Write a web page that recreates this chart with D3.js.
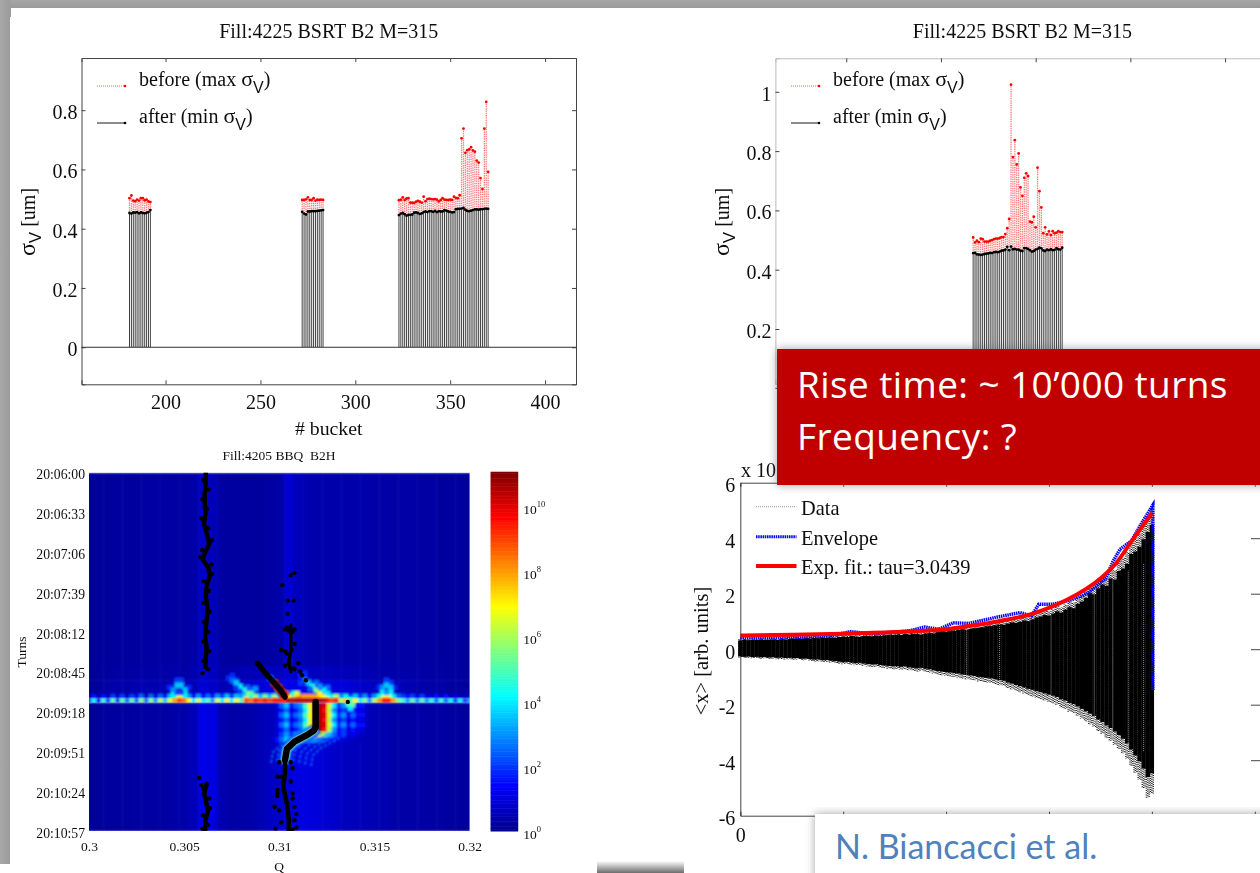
<!DOCTYPE html>
<html>
<head>
<meta charset="utf-8">
<script src="https://cdn.jsdelivr.net/npm/d3@7"></script>
<style>
  html, body { margin: 0; padding: 0; background: #fff; overflow: hidden; }
  svg { display: block; }
  text { font-family: "Liberation Serif", serif; fill: #111; }
  .frame .domain, .frame .tick line { stroke: #444; stroke-width: 1; }
  .frame .tick text { fill: #111; }
  .pale .domain { stroke: #bbb; }
</style>
</head>
<body>
<svg id="slide" width="1260" height="873"></svg>
<script>
// ---- BSRT panels: sigma_V per bucket ----
const bucketTicks = [200, 250, 300, 350, 400];
const sigmaTicks = [0, 0.2, 0.4, 0.6, 0.8];
const leftBuckets = [...d3.range(181, 193), ...d3.range(272, 284), ...d3.range(323, 371)];
const leftBefore = [
  .503, .512, .495, .493, .498, .495, .503, .503, .496, .498, .492, .49,
  .497, .497, .499, .506, .497, .497, .503, .495, .498, .497, .498, .497,
  .496, .498, .506, .497, .502, .503, .488, .488, .487, .491, .494, .491, .488, .508, .493, .5,
  .501, .5, .499, .5, .498, .492, .497, .503, .498, .497, .497, .498, .497, .508, .504, .503, .513,
  .705, .738, .656, .665, .668, .675, .664, .66, .63, .623, .571, .534, .738, .828, .592
];
const leftAfter = [
  .453, .451, .455, .454, .456, .452, .455, .453, .452, .454, .456, .463,
  .457, .451, .448, .458, .458, .459, .459, .459, .46, .461, .462, .463,
  .446, .451, .453, .449, .444, .447, .447, .448, .454, .455, .453, .45, .452, .456, .458, .456,
  .459, .459, .457, .46, .456, .459, .458, .458, .463, .461, .458, .457, .455, .456, .466, .467,
  .467, .468, .47, .464, .46, .459, .461, .463, .465, .465, .464, .466, .466, .467, .468, .467
];

const rightBucketTicks = [250, 300, 350, 400, 450];
const rightSigmaTicks = [0.2, 0.4, 0.6, 0.8, 1];
const rightBuckets = d3.range(317, 365);
const rightBefore = [
  .509, .492, .498, .493, .505, .503, .495, .495, .495, .498, .5, .503, .505, .505, .507, .51, .51, .52,
  .54, .571, 1.024, .78, .837, .755, .792, .678, .649, .71, .725, .716, .562, .56, .579, .543, .744, .665,
  .61, .523, .543, .519, .529, .517, .53, .523, .525, .53, .527, .527
];
const rightAfter = [
  .456, .457, .452, .451, .45, .451, .453, .454, .455, .457, .456, .459, .46, .459, .461, .464, .465, .468,
  .477, .466, .478, .469, .47, .468, .468, .464, .463, .473, .473, .47, .466, .461, .463, .468, .47, .474,
  .472, .465, .463, .468, .466, .469, .466, .467, .473, .469, .468, .474
];

// ---- BBQ spectrogram ----
const qTicks = [0.3, 0.305, 0.31, 0.315, 0.32];
const qTickLabels = ["0.3", "0.305", "0.31", "0.315", "0.32"];
const timeTicks = [0, 33, 66, 99, 132, 165, 198, 231, 264, 297];
const timeLabels = ["20:06:00", "20:06:33", "20:07:06", "20:07:39", "20:08:12", "20:08:45", "20:09:18", "20:09:51", "20:10:24", "20:10:57"];
const colourExponents = [0, 2, 4, 6, 8, 10];
// log10 amplitude per Q column (0.0005 wide), above and below the instability
const bgAbove = [.15, .15, .15, .2, .2, .2, .25, .25, .25, .25, .25, .3, .7, .5, .25, .2, .2, .2, .2, .25, .3, .8, .5, .4, .35, .35, .35, .35, .35, .35, .3, .3, .3, .3, .3, .25, .25, .2, .2, .2, .15];
const glowFar = [.15, .15, .2, .25, .25, .3, .3, .3, .3, .35, .3, .4, .75, .6, .35, .35, .45, .5, .55, .6, .6, .85, .7, .65, .6, .6, .55, .5, .45, .45, .4, .35, .35, .35, .3, .3, .25, .25, .2, .2, .15];
const glowNear = [.2, .2, .3, .35, .35, .4, .45, .4, .45, .5, .45, .5, .85, .7, .5, .55, .7, .8, .9, 1, 1, 1.1, 1.1, 1.1, 1.1, 1, .95, .9, .8, .7, .6, .55, .5, .5, .4, .35, .3, .3, .2, .2, .2];
const bgBelow = [.15, .15, .2, .2, .2, .25, .25, .25, .25, .3, .35, .5, 1.1, 1, .4, .3, .3, .35, .45, .6, .75, .9, 1, 1, .9, .8, .7, .6, .55, .5, .45, .4, .35, .3, .3, .3, .25, .25, .2, .2, .2];
// horizontal streak, 0.00025 wide columns
const streakRow = [
  2, 4, 1.5, 4.5, 2, 5, 2, 5, 2.5, 5, 2.5, 5.5, 2.5, 5.5, 3, 6, 3.5,
  6.5, 8, 9, 8.5, 7, 4, 6.5, 4, 5, 3, 6.5, 4, 7, 4, 7, 5,
  9, 8.5, 9.5, 9, 9.5, 9, 9.5, 9.5, 9.5, 10.5, 10.5, 10.6, 10.5, 10.5, 10.5, 10.6, 10.5,
  10, 9, 9.5, 6, 7.5, 5, 7, 4, 5.5, 3, 6, 8, 9.5, 9.5, 8, 5.5,
  4.5, 3, 5, 3, 5, 3, 4.5, 2.5, 4.5, 2.5, 4, 2, 4, 2, 3
];
const streakUpper = [
  .4, 1.5, .4, 1.5, .5, 2, .6, 2, .6, 2, 1, 2.5, .6, 2.5, 1, 2.5, 1.5,
  3.5, 5, 7, 5, 3, 1.5, 3, 1.5, 2.5, 1.5, 3, 2, 3.5, 2, 3.5, 3,
  6.5, 4, 6, 3.5, 5.5, 3.5, 6, 4, 6, 7, 8, 9, 8, 8, 8, 8, 7,
  7, 4.5, 6, 3, 4, 2, 3.5, 2, 3, 1.5, 3, 4.5, 7, 7, 4, 2.5,
  2, 1.5, 2, 1, 2, 1, .8, 1.5, .6, 1.5, .5, 1, .4, .5, .4
];
// dashed vertical stripes under the streak, rows 4 s tall, starting at Q = 0.3095
const fringeRows = [
  [.5, 1, 2.5, 3.5, 1.5, 2.5, 3, 5, 7, 10.5, 10.5, 10, 6.5, 4, 2, 3, 1.5, 2.5, 1.5, 1.5, .6],
  [.5, .8, 1.5, 2.5, 1, 1.5, 2.5, 4, 6.5, 10.5, 10.5, 9.5, 6, 3, 1.5, 2, 1, 1.5, 1, 1, .5],
  [.5, 1, 2.5, 3.5, 1.5, 2.5, 3, 5, 7, 10.5, 10.5, 10, 6.5, 4, 2, 3, 1.5, 2.5, 1.5, 1.5, .6],
  [.5, .8, 1.5, 2.5, 1, 1.5, 2.5, 4, 6.5, 10.5, 10.5, 9.5, 6, 3, 1.5, 2, 1, 1.5, 1, 1, .5],
  [.5, 1, 2.5, 3.5, 1.5, 2.5, 3, 5, 7, 10.5, 10.5, 10, 6.5, 4, 2, 3, 1.5, 2.5, 1.5, 1.5, .6],
  [.5, .8, 1.5, 2.5, 1, 1.5, 2.5, 4, 6.5, 10.5, 10.5, 9.5, 6, 3, 1.5, 2, 1, 1.5, 1, 1, .5],
  [.5, 1, 2, 3, 2, 3, 3.5, 5, 7, 8, 7, 5.5, 3.5, 2.5, 1.5, 2, 1, 1.2, .8, .6, .5],
  [.6, 1.5, 2.5, 3.5, 3, 3.5, 3.5, 3, 3, 3, 2.5, 2, 1.5, 1.5, 1, 1, .8, .6, .5, .5, .5]
];
// [Q, seconds, log10 amplitude] of the side bands rising above the streak
const spurCells = [
  [.3041, 176, 1.8], [.3051, 176, 1.8], [.3045, 170, 2], [.3047, 170, 2],
  [.3043, 178, 3], [.3045, 174, 3.5], [.3047, 174, 3.5], [.3049, 178, 3.5], [.3043, 182, 4], [.3049, 182, 4], [.3045, 180, 2], [.3047, 180, 2],
  [.3072, 168, 1.8], [.3074, 166, 1.8], [.3076, 170, 2], [.3082, 176, 2.5], [.3084, 178, 2.5],
  [.3074, 170, 2.5], [.3076, 172, 3.5], [.3078, 175, 4], [.308, 178, 4.5], [.3082, 181, 6], [.308, 181, 3.5], [.3084, 181, 5], [.3078, 179, 2], [.3076, 176, 2], [.3086, 177, 3],
  [.311, 166, 1.8], [.3112, 164, 1.8], [.3118, 172, 2.5], [.3124, 176, 2.5],
  [.3112, 169, 2.5], [.3114, 172, 3.5], [.3116, 175, 4.5], [.3118, 178, 5.5], [.312, 181, 7], [.3122, 178, 4], [.3115, 177, 2.5], [.312, 175, 3], [.311, 172, 2], [.3124, 181, 4],
  [.3151, 176, 1.8], [.3159, 176, 1.8], [.3155, 170, 2], [.3157, 172, 2],
  [.3153, 176, 3], [.3155, 174, 3.5], [.3157, 176, 3.5], [.3153, 180, 4], [.3157, 180, 4], [.3155, 180, 3],
  [.3094, 168, 2.5], [.3096, 172, 3.5], [.3098, 176, 5], [.31, 180, 6], [.3102, 181, 8], [.3098, 180, 3.5], [.3106, 181, 4.5], [.3108, 181, 6.5],
  [.3135, 190, 5], [.3137, 190, 5.5], [.3136, 186, 4.5], [.3136, 193, 4]
];
// tune traces, [Q, seconds]
const tuneTop = [[.30614, 0], [.30612, 9], [.30608, 17], [.30608, 25], [.30612, 34], [.30604, 42], [.30618, 50], [.30632, 59], [.30608, 67], [.30598, 72], [.30628, 79], [.30634, 86], [.30618, 94], [.30614, 103], [.30622, 111], [.3062, 119], [.30614, 128], [.3061, 136], [.30618, 144], [.30614, 153], [.30612, 161]];
const tuneBottom = [[.30618, 258], [.30606, 266], [.30616, 274], [.30626, 280], [.30612, 288], [.3061, 297]];
const tuneColumn = [[.3106, 126], [.3106, 132], [.3106, 139], [.3106, 148], [.3105, 157], [.3106, 165]];
const tuneSlant = [[.30886, 158], [.30926, 166], [.30966, 173], [.31006, 180], [.3103, 186]];
const tuneBend = [[.31191, 190], [.31191, 211], [.3118, 214], [.3114, 218], [.3108, 223], [.3104, 229], [.3103, 238]];
const tuneLower = [[.3103, 238], [.3103, 249], [.3102, 260], [.3104, 274], [.3105, 288], [.3105, 297]];
const tuneDots = [
  [.3108, 83], [.3106, 85], [.31016, 93], [.31044, 106], [.31076, 106], [.31044, 117], [.3105, 131], [.3103, 130], [.3107, 132],
  [.3103, 148], [.3101, 147], [.31064, 147], [.31076, 162], [.3105, 158], [.311, 158], [.3112, 168], [.3114, 172],
  [.3098, 295], [.30975, 277], [.3108, 277], [.3107, 296], [.3107, 266], [.3099, 263], [.3058, 253], [.3059, 259],
  [.3136, 190], [.3101, 252], [.3106, 240], [.3099, 268], [.3108, 288],
  [.306, 6], [.30628, 14], [.30596, 22], [.3062, 30], [.30592, 38], [.30626, 46], [.30646, 56], [.30594, 64], [.30586, 70], [.30644, 76],
  [.30648, 84], [.30604, 90], [.3063, 98], [.306, 108], [.30634, 115], [.30604, 124], [.30626, 132], [.30598, 140], [.30632, 148], [.306, 156], [.30626, 163], [.30596, 166],
  [.30602, 262], [.30632, 270], [.30636, 278], [.30598, 284], [.30626, 292], [.30596, 295],
  [.31, 240], [.3107, 245], [.3099, 252], [.3106, 256], [.3099, 266], [.3107, 270], [.31, 280], [.3109, 283], [.3101, 290], [.3109, 294],
  [.3104, 128], [.3108, 130], [.3108, 142], [.3104, 150], [.3103, 160], [.3108, 163], [.3111, 165]
];

// ---- Oscillation panel ----
const amplitudeTicks = [-6, -4, -2, 0, 2, 4, 6];
const turnTicks = [0, 1, 2, 3, 4, 5];
const dataHigh = [
  .36, .38, .37, .39, .38, .4, .38, .39, .4, .38, .41, .4, .42,
  .42, .44, .43, .45, .44, .46, .45, .47, .46, .48, .47, .5,
  .52, .5, .54, .52, .5, .54, .55, .53, .56, .55, .57, .58,
  .58, .6, .58, .62, .6, .63, .62, .6, .64, .66, .65, .7,
  .74, .72, .78, .76, .8, .82, .8, .84, .86, .88, .9, .94,
  .96, .98, 1.02, 1, 1.05, 1.1, 1.08, 1.12, 1.18, 1.15, 1.22, 1.3,
  1.34, 1.4, 1.38, 1.46, 1.55, 1.5, 1.62, 1.72, 1.68, 1.85, 1.95, 2.1,
  2.3, 2.25, 2.5, 2.65, 2.6, 2.9, 2.85, 3.2, 3.3, 3.5, 3.9, 4,
  4.2, 4.5, 4.8, 5.1
];
const dataLow = [
  -.3, -.32, -.31, -.33, -.32, -.34, -.33, -.35, -.34, -.36, -.35, -.37, -.36,
  -.38, -.37, -.4, -.39, -.42, -.44, -.43, -.46, -.45, -.48, -.5, -.52,
  -.54, -.53, -.56, -.58, -.57, -.6, -.62, -.64, -.63, -.66, -.68, -.7,
  -.72, -.71, -.74, -.72, -.76, -.78, -.8, -.78, -.82, -.84, -.88, -.92,
  -.94, -.96, -.98, -1, -1.02, -1.06, -1.08, -1.1, -1.12, -1.16, -1.18, -1.2,
  -1.22, -1.26, -1.3, -1.32, -1.4, -1.44, -1.5, -1.55, -1.6, -1.66, -1.7, -1.76,
  -1.8, -1.85, -1.9, -1.95, -2, -2.1, -2.15, -2.25, -2.3, -2.4, -2.5, -2.6,
  -2.7, -2.8, -2.95, -3.05, -3.2, -3.3, -3.45, -3.6, -3.75, -3.95, -4.2, -4.45,
  -4.7, -5, -5.35, -5.2
];
const dataStripes = [2.2, 2.52, 3.02, 3.44, 3.62, 3.77, 3.92];
const envelopeTurns = [0, .49, .85, 1.07, 1.28, 1.64, 1.79, 1.93, 2.07, 2.22, 2.5, 2.72, 2.83, 2.9, 3.04, 3.22, 3.37, 3.55, 3.62, 3.69, 3.8, 3.91, 4.01, 4.01];
const envelopeValues = [.4, .43, .47, .63, .56, .66, .8, .72, .95, .93, 1.16, 1.32, 1.2, 1.62, 1.62, 1.78, 2, 2.55, 3.15, 3.6, 3.9, 4.6, 5.2, -1.5];
const fitTurns = [0, .5, 1, 1.5, 2, 2.25, 2.5, 2.85, 3.17, 3.5, 3.65, 3.81, 4];
const fitValues = [.49, .52, .56, .62, .72, .85, 1, 1.29, 1.77, 2.55, 3.09, 3.93, 4.9];

const svg = d3.select("#slide");
const defs = svg.append("defs");

function addBlur(id, std) {
  defs.append("filter").attr("id", id)
    .attr("x", "-10%").attr("y", "-10%").attr("width", "120%").attr("height", "120%")
    .append("feGaussianBlur").attr("stdDeviation", std);
}
addBlur("soft", 0.4);
addBlur("heatBlur", 1);
addBlur("streakBlur", 0.8);
addBlur("dotBlur", 0.5);
addBlur("shadow", 5);

function addFade(id, x2, y2, from, to) {
  const g = defs.append("linearGradient").attr("id", id)
    .attr("x1", 0).attr("y1", 0).attr("x2", x2).attr("y2", y2);
  g.append("stop").attr("offset", "0%").attr("stop-color", from);
  g.append("stop").attr("offset", "100%").attr("stop-color", to);
}
addFade("stripTop", 0, 1, "#a6a6a6", "#9a9a9a");
addFade("stripLeft", 1, 0, "#a8a8a8", "#9c9c9c");
addFade("stripBottom", 0, 1, "#ffffff", "#6c6c6c");

// slide edges left over in the screenshot
svg.append("rect").attr("width", 1260).attr("height", 8).attr("fill", "url(#stripTop)");
svg.append("rect").attr("width", 10).attr("height", 864).attr("fill", "url(#stripLeft)");
svg.append("rect").attr("x", 10).attr("y", 8).attr("width", 1).attr("height", 9).attr("fill", "#9c9c9c");
svg.append("rect").attr("x", 597).attr("y", 861).attr("width", 87).attr("height", 12).attr("fill", "url(#stripBottom)");

function sigmaLabel(g, x, y) {
  const t = g.append("text").attr("transform", `translate(${x},${y}) rotate(-90)`)
    .attr("text-anchor", "middle").attr("font-size", 20);
  t.append("tspan").attr("font-size", 24).text("σ");
  t.append("tspan").attr("font-size", 17).attr("dy", 6).attr("font-family", "Liberation Sans").text("V");
  t.append("tspan").attr("dy", -6).text(" [um]");
}

function legendEntry(g, x, y, colour, dashed, label) {
  g.append("line").attr("x1", x).attr("x2", x + 28).attr("y1", y).attr("y2", y)
    .attr("stroke", colour).attr("stroke-width", 0.9)
    .attr("stroke-dasharray", dashed ? "1 1" : null).attr("opacity", dashed ? 0.7 : 1);
  g.append("circle").attr("cx", x + 28).attr("cy", y).attr("r", 1.3).attr("fill", colour);
  const t = g.append("text").attr("x", x + 42).attr("y", y).attr("font-size", 20);
  t.append("tspan").text(`${label} (${dashed ? "max" : "min"} `);
  t.append("tspan").attr("font-size", 22).text("σ");
  t.append("tspan").attr("font-family", "Liberation Sans").attr("font-size", 16).attr("dy", 7).text("V");
  t.append("tspan").attr("dy", -7).text(")");
}

function bsrtPanel(opts) {
  const g = svg.append("g").attr("class", `frame ${opts.pale ? "pale" : ""}`).attr("filter", "url(#soft)");
  const x = d3.scaleLinear().domain(opts.xDomain).range(opts.xRange);
  const y = d3.scaleLinear().domain(opts.yDomain).range(opts.yRange);
  const [left, right] = opts.xRange;
  const [bottom, top] = opts.yRange;

  const stems = (low, high) => (d, i) => d3.line()([[x(d), y(low(i))], [x(d), y(high(i))]]);
  g.append("g").selectAll("path").data(opts.buckets).join("path")
    .attr("d", stems(() => 0, (i) => opts.after[i]))
    .attr("stroke", "#000").attr("stroke-width", 0.75).attr("fill", "none");
  g.append("g").selectAll("path").data(opts.buckets).join("path")
    .attr("d", stems((i) => opts.after[i], (i) => opts.before[i]))
    .attr("stroke", "#f00").attr("stroke-width", 1.3).attr("stroke-dasharray", "1.5 0.8")
    .attr("opacity", 0.5).attr("fill", "none");
  g.append("g").selectAll("circle").data(opts.buckets).join("circle")
    .attr("cx", (d) => x(d)).attr("cy", (d, i) => y(opts.before[i]))
    .attr("r", 1.4).attr("fill", "#f00");
  g.append("g").selectAll("circle").data(opts.buckets).join("circle")
    .attr("cx", (d) => x(d)).attr("cy", (d, i) => y(opts.after[i]))
    .attr("r", 1.4).attr("fill", "#000");

  const xLabels = opts.hideXLabels ? "" : d3.format("d");
  g.append("g").attr("transform", `translate(0,${bottom})`)
    .call(d3.axisBottom(x).tickValues(opts.xTicks).tickSize(-4).tickPadding(11).tickFormat(xLabels))
    .attr("font-size", 20).attr("font-family", "Liberation Serif");
  g.append("g").attr("transform", `translate(0,${top})`)
    .call(d3.axisTop(x).tickValues(opts.xTicks).tickSize(-4).tickFormat(""));
  const yAxis = g.append("g").attr("transform", `translate(${left},0)`)
    .call(d3.axisLeft(y).tickValues(opts.yTicks).tickSize(-4).tickPadding(4).tickFormat((d) => `${d}`))
    .attr("font-size", 20).attr("font-family", "Liberation Serif");
  yAxis.selectAll("text").attr("dy", "0.42em");
  g.append("g").attr("transform", `translate(${right},0)`)
    .call(d3.axisRight(y).tickValues(opts.yTicks).tickSize(-4).tickFormat(""));
  g.append("line").attr("x1", left).attr("x2", right).attr("y1", y(0)).attr("y2", y(0))
    .attr("stroke", "#333").attr("stroke-width", 1);

  g.append("text").attr("x", (left + right) / 2).attr("y", 38).attr("text-anchor", "middle")
    .attr("font-size", 20).text("Fill:4225 BSRT B2 M=315");
  sigmaLabel(g, opts.yLabelX, 222);
  legendEntry(g, opts.legendX, 86, "#f00", true, "before");
  legendEntry(g, opts.legendX, 123, "#000", false, "after");
  return g;
}

const leftPanel = bsrtPanel({
  xDomain: [155.7, 416.3], xRange: [81.5, 576], yDomain: [-0.125, 0.976], yRange: [384.3, 58],
  xTicks: bucketTicks, yTicks: sigmaTicks, buckets: leftBuckets, before: leftBefore, after: leftAfter,
  yLabelX: 35, legendX: 97
});
leftPanel.append("text").attr("x", 328.7).attr("y", 435).attr("text-anchor", "middle")
  .attr("font-size", 19.8).text("# bucket");

bsrtPanel({
  xDomain: [212.6, 473.4], xRange: [775.4, 1269.4], yDomain: [0.0145, 1.113], yRange: [384, 58.3],
  xTicks: rightBucketTicks, yTicks: rightSigmaTicks, buckets: rightBuckets, before: rightBefore, after: rightAfter,
  yLabelX: 729, legendX: 791, pale: true, hideXLabels: true
});

// ---- spectrogram ----
const jet = d3.scaleLinear()
  .domain([0, 0.125, 0.375, 0.625, 0.875, 1])
  .range(["#00008f", "#0000ff", "#00ffff", "#ffff00", "#ff0000", "#800000"]);
const maxExponent = 11.02;
const heatColour = (level) => jet(level / maxExponent);

const heat = svg.append("g");
const qScale = d3.scaleLinear().domain([0.3, 0.32]).range([89, 469.6]);
const timeScale = d3.scaleLinear().domain([0, 297]).range([472.7, 831]);

defs.append("clipPath").attr("id", "heatClip").append("rect")
  .attr("x", 89).attr("y", 472.7).attr("width", 380.6).attr("height", 358.3);

const cells = [];
const addRowCells = (levels, q0, dq, t0, t1) => levels.forEach((level, i) => {
  cells.push({ q0: q0 + i * dq, q1: q0 + (i + 1) * dq, t0, t1, level });
});
addRowCells(bgAbove, 0.29975, 0.0005, 0, 160);
addRowCells(glowFar, 0.29975, 0.0005, 160, 172);
addRowCells(glowNear, 0.29975, 0.0005, 172, 184);
addRowCells(bgBelow, 0.29975, 0.0005, 190.5, 297);
addRowCells(streakUpper, 0.299875, 0.00025, 183.5, 187);
fringeRows.forEach((row, r) => addRowCells(row, 0.3095, 0.00025, 191 + r * 4, 195 + r * 4));
spurCells.forEach(([q, t, level]) => cells.push({ q0: q, q1: q + 0.00025, t0: t, t1: t + 4, level }));

const heatInner = heat.append("g").attr("clip-path", "url(#heatClip)");
const blurred = heatInner.append("g").attr("filter", "url(#heatBlur)");
blurred.selectAll("rect").data(cells).join("rect")
  .attr("x", (d) => qScale(d.q0)).attr("width", (d) => qScale(d.q1) - qScale(d.q0) + 0.5)
  .attr("y", (d) => timeScale(d.t0)).attr("height", (d) => timeScale(d.t1) - timeScale(d.t0) + 0.5)
  .attr("fill", (d) => heatColour(d.level));

const tuneLine = d3.line().x((d) => qScale(d[0])).y((d) => timeScale(d[1]));
// halos around the moving tune, then the bright streak on top with a sharp lower edge
const halos = heatInner.append("g").attr("filter", "url(#heatBlur)");
const bendHalo = tuneBend.slice(2);
// faint ripple lines running parallel to the bend
[-14, -8, 8, 14, 20, 26].forEach((dx) => {
  halos.append("path").attr("d", tuneLine(bendHalo)).attr("transform", `translate(${dx},${Math.abs(dx) * 0.25})`)
    .attr("fill", "none").attr("stroke", heatColour(2.8)).attr("stroke-width", 1.6).attr("stroke-dasharray", "3 2");
});
[[12, 2], [8, 3.5], [6, 6]].forEach(([width, level]) => {
  halos.append("path").attr("d", tuneLine(bendHalo)).attr("fill", "none")
    .attr("stroke", heatColour(level)).attr("stroke-width", width).attr("stroke-linecap", "round");
});
halos.append("path").attr("d", tuneLine(tuneSlant.slice(2))).attr("fill", "none")
  .attr("stroke", heatColour(10.5)).attr("stroke-width", 9);
const streakGroup = heatInner.append("g").attr("filter", "url(#streakBlur)");
streakGroup.selectAll("rect").data(streakRow).join("rect")
  .attr("x", (d, i) => qScale(0.299875 + i * 0.00025)).attr("width", qScale(0.30025) - qScale(0.3) + 0.5)
  .attr("y", timeScale(187)).attr("height", timeScale(190.5) - timeScale(187))
  .attr("fill", (d) => heatColour(d));

const black = heatInner.append("g").attr("filter", "url(#dotBlur)");
[[tuneTop, 4.5], [tuneBottom, 4.5], [tuneColumn, 3.5], [tuneSlant, 5.5], [tuneBend, 6.5], [tuneLower, 4.5]].forEach(([pts, width]) => {
  black.append("path").attr("d", tuneLine(pts)).attr("fill", "none").attr("stroke", "#000")
    .attr("stroke-width", width).attr("stroke-linecap", "round").attr("stroke-linejoin", "round");
});
black.selectAll("circle").data(tuneDots).join("circle")
  .attr("cx", (d) => qScale(d[0])).attr("cy", (d) => timeScale(d[1])).attr("r", 2.2).attr("fill", "#000");

const heatAxes = svg.append("g").attr("filter", "url(#dotBlur)").attr("class", "heatAxes");
const qAxis = heatAxes.append("g").attr("transform", "translate(0,831)")
  .call(d3.axisBottom(qScale).tickValues(qTicks).tickSize(0).tickPadding(10).tickFormat((d, i) => qTickLabels[i]))
  .attr("font-size", 13.5).attr("font-family", "Liberation Serif");
const timeAxis = heatAxes.append("g").attr("transform", "translate(89,0)")
  .call(d3.axisLeft(timeScale).tickValues(timeTicks).tickSize(0).tickPadding(4).tickFormat((d, i) => timeLabels[i]))
  .attr("font-size", 13.7).attr("font-family", "Liberation Serif");
timeAxis.selectAll("text").attr("dy", "0.45em");
qAxis.select(".domain").remove();
timeAxis.select(".domain").remove();
heatAxes.append("text").attr("x", 279).attr("y", 871).attr("text-anchor", "middle").attr("font-size", 13.5).text("Q");
heatAxes.append("text").attr("transform", "translate(26,652) rotate(-90)").attr("text-anchor", "middle").attr("font-size", 13.5).text("Turns");
heatAxes.append("text").attr("x", 279).attr("y", 460).attr("text-anchor", "middle").attr("font-size", 13.5).text("Fill:4205 BBQ\u00a0\u00a0B2H");

// colour bar
const barScale = d3.scaleLog().domain([1, Math.pow(10, maxExponent)]).range([831, 472.7]);
const barLevels = d3.range(0, maxExponent, 0.05);
heatAxes.append("g").selectAll("rect").data(barLevels).join("rect")
  .attr("x", 490.6).attr("width", 27.6)
  .attr("y", (d) => barScale(Math.pow(10, d + 0.05)))
  .attr("height", (d) => barScale(Math.pow(10, d)) - barScale(Math.pow(10, d + 0.05)) + 0.5)
  .attr("fill", (d) => heatColour(d));
const barAxis = heatAxes.append("g").attr("transform", "translate(518.2,0)")
  .call(d3.axisRight(barScale).tickValues(colourExponents.map((e) => Math.pow(10, e))).tickSize(0).tickPadding(5).tickFormat(() => "10"))
  .attr("font-size", 13.5).attr("font-family", "Liberation Serif");
barAxis.select(".domain").remove();
barAxis.selectAll("text").attr("dy", "0.55em")
  .append("tspan").attr("font-size", 8.5).attr("dy", -7).text((d) => Math.round(Math.log10(d)));

// ---- oscillation panel ----
const osc = svg.append("g").attr("class", "frame").attr("filter", "url(#soft)");
const turnScale = d3.scaleLinear().domain([0, 5.07]).range([740.3, 1262]);
const ampScale = d3.scaleLinear().domain([-6, 6]).range([815.7, 482.7]);
const dataTurns = dataHigh.map((d, i) => i * 0.04);

osc.append("g").attr("transform", "translate(0,815.7)")
  .call(d3.axisBottom(turnScale).tickValues(turnTicks).tickSize(-4).tickPadding(12).tickFormat((d) => (d === 0 ? "0" : "")))
  .attr("font-size", 20).attr("font-family", "Liberation Serif");
osc.append("g").attr("transform", "translate(0,482.7)")
  .call(d3.axisTop(turnScale).tickValues(turnTicks).tickSize(-4).tickFormat(""));
const ampAxis = osc.append("g").attr("transform", "translate(740.3,0)")
  .call(d3.axisLeft(ampScale).tickValues(amplitudeTicks).tickSize(0).tickPadding(5).tickFormat((d) => `${d}`))
  .attr("font-size", 20).attr("font-family", "Liberation Serif");
ampAxis.selectAll("text").attr("dy", "0.45em");
osc.append("g").attr("transform", "translate(1262,0)")
  .call(d3.axisRight(ampScale).tickValues(amplitudeTicks).tickSize(-11).tickFormat(""));

const oscStem = (d, lo, hi) => d3.line()([[turnScale(d), ampScale(lo)], [turnScale(d), ampScale(hi)]]);
// the outer tips of each oscillation show up as loose dots, thin staggered threads give that fuzz
[-1.4, 0, 1.4].forEach((dx, k) => {
  osc.append("g").attr("transform", `translate(${dx},0)`).selectAll("path").data(dataTurns).join("path")
    .attr("d", (d, i) => oscStem(d, dataLow[i], dataHigh[i]))
    .attr("stroke", "#222").attr("stroke-width", 1.4).attr("stroke-dasharray", "1 1.2")
    .attr("stroke-dashoffset", (d, i) => ((i + k) * 0.8) % 2.2).attr("fill", "none");
});
osc.append("g").selectAll("path").data(dataTurns).join("path")
  .attr("d", (d, i) => oscStem(d, dataLow[i] * 0.86, dataHigh[i] * 0.88))
  .attr("stroke", "#000").attr("stroke-width", 4.3).attr("fill", "none");
osc.append("g").selectAll("path").data(dataStripes).join("path")
  .attr("d", (d) => oscStem(d, -0.6 - d * d * 0.2, d * d * 0.2))
  .attr("stroke", "#fff").attr("stroke-width", 1).attr("stroke-dasharray", "1 1").attr("opacity", 0.6).attr("fill", "none");

const envelopeLine = d3.line().x((d) => turnScale(d)).y((d, i) => ampScale(envelopeValues[i]));
osc.append("path").attr("d", envelopeLine(envelopeTurns)).attr("fill", "none")
  .attr("stroke", "#0000ff").attr("stroke-width", 3.4).attr("stroke-dasharray", "1.5 0.7");
const fitLine = d3.line().x((d) => turnScale(d)).y((d, i) => ampScale(fitValues[i])).curve(d3.curveMonotoneX);
osc.append("path").attr("d", fitLine(fitTurns)).attr("fill", "none")
  .attr("stroke", "#f00").attr("stroke-width", 4);

osc.append("text").attr("x", 741).attr("y", 477).attr("font-size", 20).text("x 10");
osc.append("text").attr("transform", "translate(708,651) rotate(-90)").attr("text-anchor", "middle")
  .attr("font-size", 20.5).text("<x> [arb. units]");
[["Data", 515, "#999", 1, "1 1"], ["Envelope", 545, "#0000ff", 3, "1.5 0.7"], ["Exp. fit.: tau=3.0439", 574, "#f00", 4, null]]
  .forEach(([label, y, colour, width, dash], i) => {
    const lineY = [506.7, 536.7, 566][i];
    osc.append("line").attr("x1", 756).attr("x2", 796.5).attr("y1", lineY).attr("y2", lineY)
      .attr("stroke", colour).attr("stroke-width", width).attr("stroke-dasharray", dash);
    osc.append("text").attr("x", 801).attr("y", y).attr("font-size", 20.4).text(label);
  });

// ---- slide overlays ----
function overlayBox(x, y, width, height, fill) {
  svg.append("rect").attr("x", x).attr("y", y).attr("width", width).attr("height", height)
    .attr("fill", "#555").attr("opacity", 0.55).attr("filter", "url(#shadow)");
  svg.append("rect").attr("x", x).attr("y", y).attr("width", width).attr("height", height).attr("fill", fill);
}
overlayBox(777, 349, 500, 136, "#c00000");
svg.append("text").attr("x", 797).attr("y", 398).attr("font-size", 37).attr("letter-spacing", 0.4)
  .style("font-family", "Open Sans").style("fill", "#fff").text("Rise time: ~ 10’000 turns");
svg.append("text").attr("x", 797).attr("y", 450).attr("font-size", 37).attr("letter-spacing", 0.4)
  .style("font-family", "Open Sans").style("fill", "#fff").text("Frequency: ?");
overlayBox(815, 814, 460, 70, "#ffffff");
svg.append("text").attr("x", 835).attr("y", 859).attr("font-size", 34)
  .style("font-family", "Lato").style("fill", "#4f81bd").text("N. Biancacci et al.");
</script>
</body>
</html>
